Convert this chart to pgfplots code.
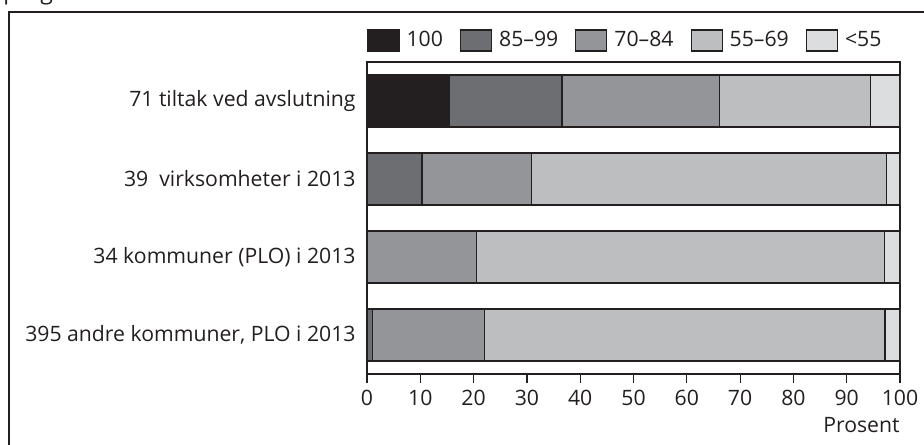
\documentclass[border=0pt]{standalone}
\usepackage{pgfplots}
\pgfplotsset{compat=1.18}
\usepackage{fontspec}
\setmainfont{Open Sans}

\definecolor{c100}{HTML}{231F20}
\definecolor{c85}{HTML}{6D6E71}
\definecolor{c70}{HTML}{939598}
\definecolor{c55}{HTML}{BCBEC0}
\definecolor{c0}{HTML}{DCDDDE}

\begin{document}
\fontsize{10.6}{12.5}\selectfont
\begin{tikzpicture}
\useasboundingbox (0,0) rectangle (462pt,222pt);
\begin{scope}
  \clip (0,0) rectangle (462pt,222pt);
  % surrounding frame of the figure
  \draw[line width=1.3pt, color=c100] (4.5pt,-20pt) rectangle (480pt,216pt);
  \node[anchor=base west, inner sep=0pt, text=c100, font=\fontsize{11.5}{13}\selectfont] at (1.5pt,222.3pt) {programmet.};
\end{scope}
\begin{axis}[
  at={(183.5pt,35pt)}, anchor=south west,
  scale only axis, width=266.5pt, height=156pt,
  xbar stacked, bar width=26pt,
  xmin=0, xmax=100, ymin=-0.5, ymax=3.5,
  xtick={0,10,...,100},
  ytick={0,1,2,3},
  yticklabels={395 andre kommuner{,} PLO i 2013, 34 kommuner (PLO) i 2013, 39~\ virksomheter i 2013, 71 tiltak ved avslutning},
  /pgf/number format/assume math mode=true,
  every tick label/.append style={text=c100},
  axis line style={draw=c100, line width=0.6pt},
  xtick align=outside, xtick pos=bottom,
  major tick length=4.5pt,
  xtick style={draw=c100, line width=0.6pt},
  ytick style={draw=none},
  yticklabel style={xshift=-2pt},
  xlabel={Prosent},
  xlabel style={at={(rel axis cs:1,0)}, anchor=east, inner sep=0pt, yshift=-25.5pt, text=c100},
  every axis plot/.append style={draw=c100, line width=0.6pt},
  area legend,
  legend image code/.code={\draw[#1] (0pt,-5.25pt) rectangle (15.5pt,5.25pt);},
  legend columns=5,
  legend style={draw=none, fill=none, inner sep=0pt,
    at={(rel axis cs:0,1)}, anchor=south west, yshift=5pt,
    nodes={inner sep=0pt, text=c100},
    /tikz/every odd column/.append style={column sep=3.5pt},
    /tikz/every even column/.append style={column sep=8.5pt}},
]
\addplot[fill=c100] coordinates {(0,0) (0,1) (0,2) (15.5,3)};
\addplot[fill=c85]  coordinates {(1.0,0) (0,1) (10.3,2) (21.1,3)};
\addplot[fill=c70]  coordinates {(21.0,0) (20.6,1) (20.5,2) (29.6,3)};
\addplot[fill=c55]  coordinates {(75.2,0) (76.5,1) (66.6,2) (28.2,3)};
\addplot[fill=c0]   coordinates {(2.8,0) (2.9,1) (2.6,2) (5.6,3)};
\legend{100, 85–99, 70–84, 55–69, <55}
\end{axis}
\end{tikzpicture}
\end{document}
